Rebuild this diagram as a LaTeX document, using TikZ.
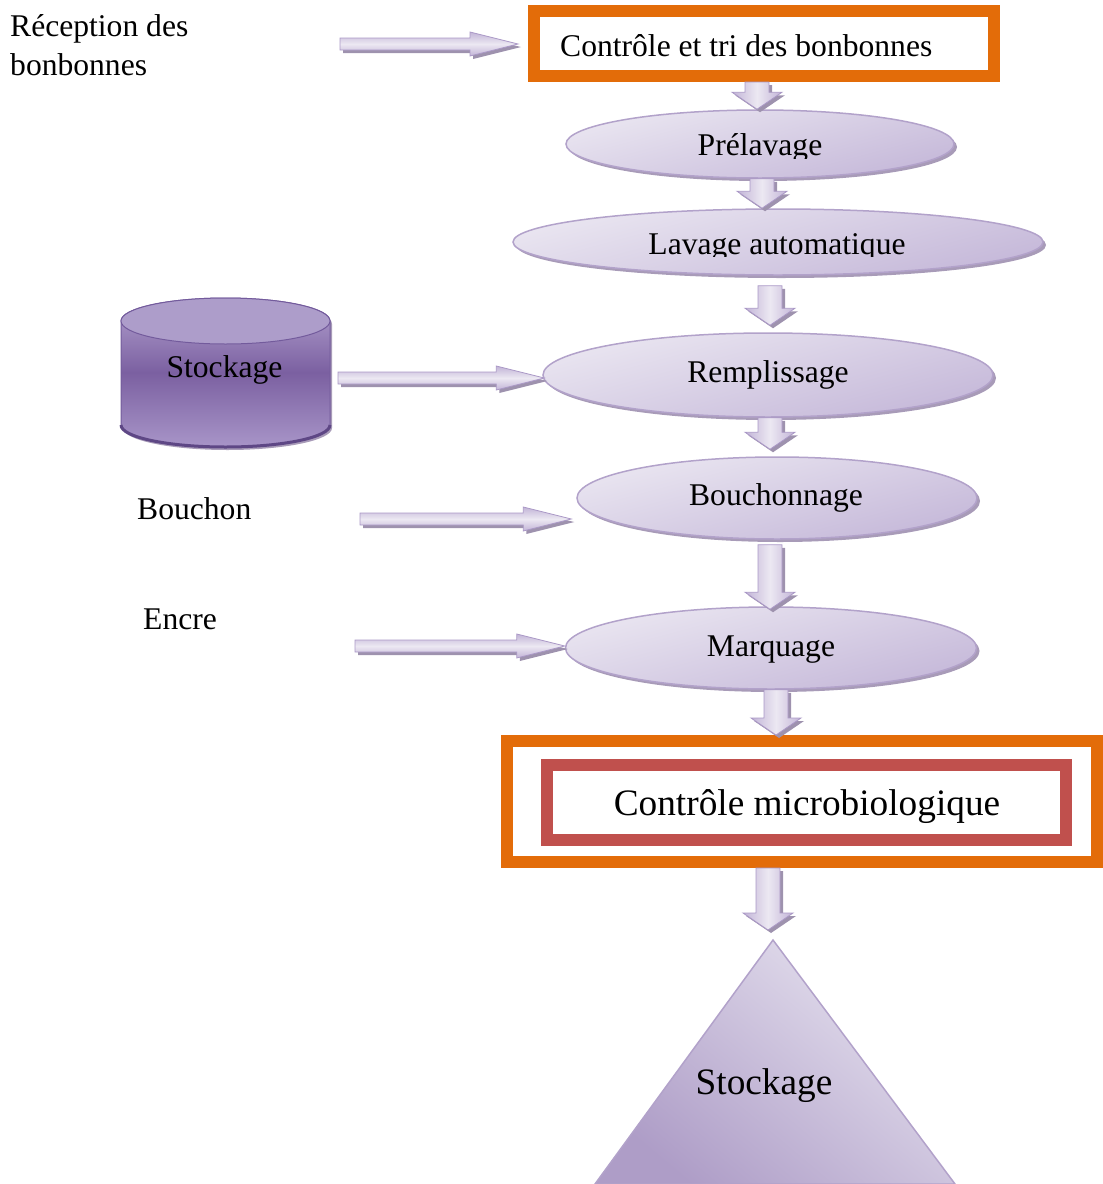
\documentclass[tikz,border=0pt]{standalone}
\usepackage{fontspec}
\setmainfont{Liberation Serif}
\usetikzlibrary{shapes.geometric,shadows,calc}

\definecolor{orangeframe}{HTML}{E36C09}
\definecolor{redframe}{HTML}{C0504D}
\definecolor{lilaclight}{HTML}{EAE6F1}
\definecolor{lilacdark}{HTML}{C5B8D9}
\definecolor{lilacline}{HTML}{B2A2CA}
\definecolor{lilacshadow}{HTML}{A89BB8}
\definecolor{arrowlight}{HTML}{ECE8F2}
\definecolor{arrowdark}{HTML}{C2B4D7}
\definecolor{arrowline}{HTML}{AA98C6}
\definecolor{arrowshadow}{HTML}{9E92AE}
\definecolor{cyltop}{HTML}{B4A3D0}
\definecolor{cylmid}{HTML}{7B60A1}
\definecolor{cylbottom}{HTML}{A895C8}
\definecolor{cyllid}{HTML}{AD9DCA}
\definecolor{cylline}{HTML}{735B9C}
\definecolor{cylrim}{HTML}{5E4785}
\definecolor{trilight}{HTML}{E6E2EF}
\definecolor{tridark}{HTML}{AE9DC7}

\newcommand\fsmain{\fontsize{31.6}{39}\selectfont}
\newcommand\fsbig{\fontsize{37.3}{44}\selectfont}

% vertical block arrow: #1 x of the axis, #2 upper end, #3 tip
\newcommand\vflow[3]{%
  \path[vflowstyle] let \p1=(#2), \p2=(#3) in
    (#1pt-12pt,\y1) -- (#1pt+12pt,\y1) -- (#1pt+12pt,\y2+17pt) -- (#1pt+25pt,\y2+17pt)
    -- (#1pt,\y2) -- (#1pt-25pt,\y2+17pt) -- (#1pt-12pt,\y2+17pt) -- cycle;}

% horizontal block arrow: #1 tail, #2 tip (its x only)
\newcommand\hflow[2]{%
  \path[hflowstyle] let \p1=(#1), \p2=(#2) in
    (\x1,\y1+6pt) -- (\x2-48pt,\y1+6pt) -- (\x2-48pt,\y1+12pt) -- (\x2,\y1)
    -- (\x2-48pt,\y1-12pt) -- (\x2-48pt,\y1-6pt) -- (\x1,\y1-6pt) -- cycle;}

\tikzset{
  txt/.style={font=\fsmain, inner sep=0pt, text=black},
  bigtxt/.style={font=\fsbig, inner sep=0pt, text=black},
  frame/.style={rectangle, draw=orangeframe, line width=12pt, fill=white, inner sep=0pt},
  inframe/.style={rectangle, draw=redframe, line width=12pt, fill=white, inner sep=0pt},
  oval/.style={ellipse, inner sep=0pt, draw=lilacline, line width=1.5pt,
    top color=lilaclight, bottom color=lilacdark, shading angle=15,
    drop shadow={shadow xshift=3pt, shadow yshift=-3pt, fill=lilacshadow, opacity=1}},
  vflowstyle/.style={draw=arrowline, line width=0.8pt,
    left color=arrowdark, right color=arrowdark, middle color=arrowlight,
    drop shadow={shadow xshift=3pt, shadow yshift=-3pt, fill=arrowshadow, opacity=1}},
  hflowstyle/.style={draw=arrowline, line width=0.8pt,
    top color=arrowdark, bottom color=arrowdark, middle color=arrowlight,
    drop shadow={shadow xshift=3pt, shadow yshift=-3pt, fill=arrowshadow, opacity=1}},
}

\begin{document}
\begin{tikzpicture}[x=1pt,y=1pt]
\useasboundingbox (0,0) rectangle (1103,-1184);

% inputs on the left
\node[txt, align=left, anchor=north west] (rec) at (10,-14) {Réception des\\bonbonnes};
\node[txt, anchor=base west] (bouchon) at (137,-519) {Bouchon};
\node[txt, anchor=base west] (encre) at (143,-629) {Encre};

% storage tank
\path[top color=cyltop, bottom color=cylbottom, middle color=cylmid, draw=cylline, line width=1pt,
      drop shadow={shadow xshift=2pt, shadow yshift=-3pt, fill=lilacshadow, opacity=1}]
  (121,-321) -- (121,-425) arc[start angle=180, end angle=360, x radius=104.5, y radius=22]
  -- (330,-321) arc[start angle=0, end angle=180, x radius=104.5, y radius=23] -- cycle;
\draw[cylrim, line width=3pt] (121,-425) arc[start angle=180, end angle=360, x radius=104.5, y radius=22];
\path[fill=cyllid, draw=cylline, line width=1pt] (225.5,-321) ellipse[x radius=104.5, y radius=23];
\node[txt, anchor=base] (stock) at (224.5,-377) {Stockage};

% process chain
\node[frame, minimum width=460pt, minimum height=65pt] (ctrl) at (764,-43.5) {};
\node[txt, anchor=base west] (ctrlT) at (560,-56) {Contrôle et tri des bonbonnes};

\node[oval, minimum width=388pt, minimum height=68pt] (pre) at (760,-144) {};
\node[oval, minimum width=530pt, minimum height=66pt] (lav) at (778,-242) {};
\node[oval, minimum width=450pt, minimum height=84pt] (rem) at (768,-375) {};
\node[oval, minimum width=400pt, minimum height=82pt] (bou) at (777,-498) {};
\node[oval, minimum width=411pt, minimum height=82pt] (mar) at (771,-648) {};

\begin{scope}
  \clip (500,-100) rectangle (1050,-158);
  \node[txt, anchor=base] (preT) at (760,-155) {Prélavage};
\end{scope}
\begin{scope}
  \clip (500,-200) rectangle (1050,-256);
  \node[txt, anchor=base] (lavT) at (777,-254) {Lavage automatique};
\end{scope}
\node[txt, anchor=base] (remT) at (768,-382) {Remplissage};
\node[txt, anchor=base] (bouT) at (776,-505) {Bouchonnage};
\node[txt, anchor=base] (marT) at (771,-656) {Marquage};

\node[frame, minimum width=590pt, minimum height=121pt] (micro) at (802,-801.5) {};
\node[inframe, minimum width=519pt, minimum height=75pt] (microin) at (806.5,-802.5) {};
\node[bigtxt, anchor=base] (microT) at (807,-815) {Contrôle microbiologique};

% final storage
\coordinate (tri) at (773,-940);
\path[draw=lilacline, line width=1.5pt, top color=trilight, bottom color=tridark, shading angle=-40]
  (tri) -- ++(182,-244) -- ++(-360,0) -- cycle;
\node[bigtxt, anchor=base] (triT) at (764,-1094) {Stockage};

% feeding arrows
\coordinate (recTail) at (340,-44);
\coordinate (stockTail) at (338,-378);
\coordinate (bouTail) at (360,-519);
\coordinate (encTail) at (355,-646);
\hflow{recTail}{[xshift=-10pt]ctrl.west}
\hflow{stockTail}{[xshift=2pt]rem.west}
\hflow{bouTail}{[xshift=-5pt]bou.west}
\hflow{encTail}{mar.west}

% flow arrows
\vflow{757}{ctrl.south}{pre.north}
\vflow{762}{pre.south}{lav.north}
\vflow{770}{[yshift=-10pt]lav.south}{[yshift=7pt]rem.north}
\vflow{770}{rem.south}{[yshift=7pt]bou.north}
\vflow{770}{[yshift=-5pt]bou.south}{[yshift=-3pt]mar.north}
\vflow{776}{mar.south}{micro.north}
\vflow{768}{micro.south}{[yshift=10pt]tri}
\end{tikzpicture}
\end{document}
